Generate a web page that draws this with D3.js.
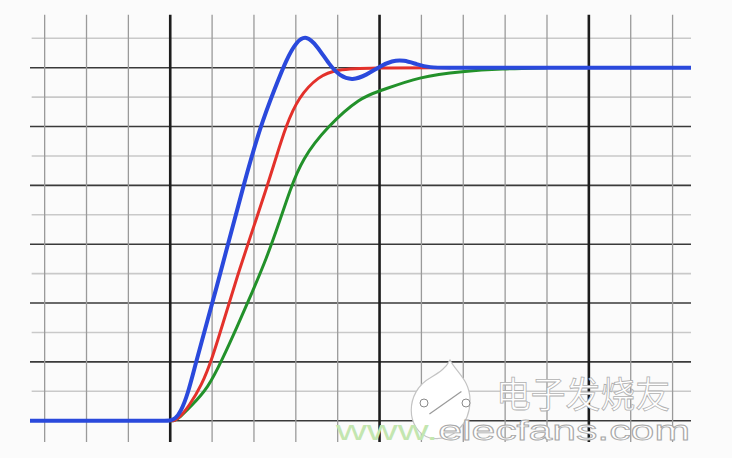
<!DOCTYPE html>
<html>
<head>
<meta charset="utf-8">
<script src="https://cdn.jsdelivr.net/npm/d3@7"></script>
<style>
  html, body { margin: 0; padding: 0; background: #fbfbfb; }
  svg { display: block; }
</style>
</head>
<body>
<svg id="chart" width="732" height="458"></svg>
<script>
// ---- data (grid units: x = minor divisions after the step, y = major divisions) ----
const xGridTicks = d3.range(-3, 13);          // vertical grid lines
const xMajorTicks = [0, 5, 10];
const yGridTicks = d3.range(0, 6.51, 0.5);    // horizontal grid lines
const setpoint = 6;

const blueX = [-3.35, -0.2, 0, 0.12, 0.25, 0.42, 0.6, 0.85, 1.1, 1.4, 1.75, 2.15, 2.5, 2.78, 3.02, 3.25, 3.5, 3.8, 4.05, 4.35, 4.7, 5.0, 5.3, 5.58, 5.88, 6.2, 6.6, 7.5, 12.44];
const blueY = [0, 0, 0, 0.03, 0.15, 0.45, 0.95, 1.6, 2.25, 3.05, 4.0, 5.0, 5.65, 6.15, 6.45, 6.55, 6.38, 6.05, 5.86, 5.78, 5.88, 6.02, 6.12, 6.13, 6.06, 6.0, 6.0, 6.0, 6.0];

const redX = [0, 0.1, 0.22, 0.45, 0.75, 1.0, 1.3, 1.6, 1.9, 2.3, 2.54, 2.76, 3.06, 3.55, 3.97, 4.77, 6.7];
const redY = [0, 0, 0.05, 0.25, 0.6, 1.05, 1.75, 2.45, 3.1, 3.95, 4.5, 5.0, 5.5, 5.86, 5.97, 6.0, 6.0];

const greenX = [0, 0.1, 0.22, 0.5, 0.9, 1.25, 1.6, 1.95, 2.3, 2.6, 2.85, 3.15, 3.75, 4.55, 5.0, 5.95, 7.0, 7.9, 9.0];
const greenY = [0, 0, 0.05, 0.25, 0.55, 1.05, 1.6, 2.17, 2.76, 3.36, 3.9, 4.45, 5.0, 5.5, 5.6, 5.85, 5.94, 5.98, 6.0];

const watermarkCN = "电子发烧友";
const watermarkURL1 = "www.";
const watermarkURL2 = "elecfans.com";

// ---- scales ----
const x = d3.scaleLinear().domain([-3.35, 12.44]).range([30, 691]);
const y = d3.scaleLinear().domain([0, setpoint]).range([420.7, 67.7]);

const svg = d3.select("#chart");
svg.append("rect").attr("width", 732).attr("height", 458).attr("fill", "#fbfbfb");

// ---- grid ----
const grid = svg.append("g");
grid.selectAll("line.h").data(yGridTicks).join("line")
  .attr("x1", d => Number.isInteger(d) ? x(-3.35) : x(-3.31))
  .attr("x2", x(12.44))
  .attr("y1", d => y(d)).attr("y2", d => y(d))
  .attr("stroke", d => Number.isInteger(d) ? "#3a3a3a" : "#c9c9c9")
  .attr("stroke-width", 1.6);
grid.selectAll("line.v").data(xGridTicks).join("line")
  .attr("x1", d => x(d)).attr("x2", d => x(d))
  .attr("y1", y(6.9)).attr("y2", y(-0.36))
  .attr("stroke", d => xMajorTicks.includes(d) ? "#1c1c1c" : "#9a9a9a")
  .attr("stroke-width", d => xMajorTicks.includes(d) ? 2.6 : 1.3);

// ---- curves ----
const line = d3.line().x(d => x(d[0])).y(d => y(d[1])).curve(d3.curveBasis);
const zip = (a, b) => a.map((v, i) => [v, b[i]]);

svg.append("path").datum(zip(greenX, greenY))
  .attr("d", line).attr("fill", "none").attr("stroke", "#22912a").attr("stroke-width", 3);
svg.append("path").datum(zip(redX, redY))
  .attr("d", line).attr("fill", "none").attr("stroke", "#e3312b").attr("stroke-width", 3);
svg.append("path").datum(zip(blueX, blueY))
  .attr("d", line).attr("fill", "none").attr("stroke", "#2a49dc").attr("stroke-width", 4)
  .attr("stroke-linejoin", "round");

// ---- watermark ----
const wm = svg.append("g");
wm.append("path")
  .attr("d", "M 430 438 C 405 430 405 392 430 378 C 440 372 446 368 450 360 C 456 372 470 380 470 400 C 470 425 452 442 430 438 Z")
  .attr("fill", "#ffffff").attr("stroke", "#c4c4c4").attr("stroke-width", 1.2);
wm.append("line").attr("x1", 426).attr("y1", 403).attr("x2", 465).attr("y2", 403)
  .attr("stroke", "#9a9a9a").attr("stroke-width", 1.2)
  .attr("transform", "rotate(-35 445 403)");
wm.append("circle").attr("cx", 424).attr("cy", 403).attr("r", 4).attr("fill", "#fff").attr("stroke", "#8a8a8a");
wm.append("circle").attr("cx", 466).attr("cy", 403).attr("r", 4).attr("fill", "#fff").attr("stroke", "#8a8a8a");
wm.append("text").text(watermarkCN)
  .attr("x", 496).attr("y", 408).attr("font-family", "Noto Sans CJK SC")
  .attr("font-size", 36).attr("textLength", 174).attr("lengthAdjust", "spacingAndGlyphs")
  .attr("fill", "#ffffff").attr("stroke", "#b0b0b0").attr("stroke-width", 0.8);
const url = wm.append("text").attr("x", 336).attr("y", 440)
  .attr("font-family", "Liberation Sans Narrow, Liberation Sans, sans-serif")
  .attr("font-size", 27).attr("textLength", 354).attr("lengthAdjust", "spacingAndGlyphs");
url.append("tspan").text(watermarkURL1).attr("fill", "#c3e6b0");
url.append("tspan").text(watermarkURL2).attr("fill", "#ffffff").attr("stroke", "#a8a8a8").attr("stroke-width", 0.8);
</script>
</body>
</html>
